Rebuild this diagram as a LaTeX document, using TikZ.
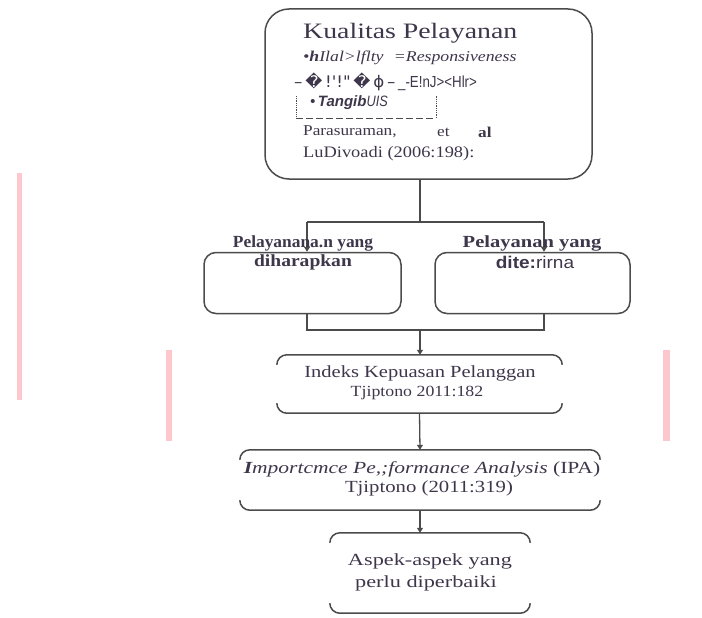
\documentclass[tikz,border=0pt]{standalone}
\usepackage{fontspec}
\usepackage{graphicx}
\setmainfont[FakeStretch=1.15]{Liberation Serif}
\newfontfamily\arialf{Liberation Sans}
\newfontfamily\dejavuf{DejaVu Sans}
\usetikzlibrary{arrows.meta,calc}
\definecolor{lin}{RGB}{75,75,75}
\definecolor{txt}{RGB}{62,54,74}
\definecolor{pinkbar}{RGB}{252,200,206}
\newcommand{\hsc}[2]{\scalebox{#1}[1]{#2}}
\tikzset{
  boxline/.style={draw=lin, line width=1.5pt},
  conn/.style={draw=lin, line width=1.3pt},
  arr/.style={conn, -{Triangle[width=6pt,length=5pt]}},
  lbl/.style={text=txt, inner sep=0pt, anchor=west},
  clbl/.style={text=txt, inner sep=0pt, anchor=center},
}
\begin{document}
\begin{tikzpicture}[x=1pt,y=-1pt]
\useasboundingbox (0,0) rectangle (702,618);
% pink margin bars
\fill[pinkbar] (17,173) rectangle (22,400);
\fill[pinkbar] (166,350) rectangle (172,441);
\fill[pinkbar] (663,350) rectangle (670,441);

% boxes
\node[boxline, rounded corners=24pt, minimum width=327pt, minimum height=170pt] (kual) at (428.5,94) {};
\node[boxline, rounded corners=12pt, minimum width=197pt, minimum height=61pt] (harap) at (302.5,283) {};
\node[boxline, rounded corners=12pt, minimum width=195pt, minimum height=61pt] (terima) at (532.5,283) {};
\node[minimum width=285pt, minimum height=58pt, inner sep=0pt] (ikp) at (419.5,384) {};
\node[minimum width=360pt, minimum height=60pt, inner sep=0pt] (ipa) at (420,480) {};
\node[minimum width=200pt, minimum height=80pt, inner sep=0pt] (aspek) at (430,573) {};
\foreach \b in {ikp,ipa,aspek}{
  \draw[boxline, rounded corners=10pt] ([yshift=-10pt]\b.north west) |- (\b.north) -| ([yshift=-10pt]\b.north east);
  \draw[boxline, rounded corners=10pt] ([yshift=10pt]\b.south west) |- (\b.south) -| ([yshift=10pt]\b.south east);
}

% connectors
\coordinate (s1) at (420,222);
\coordinate (bl) at (307,222);
\coordinate (br) at (544,222);
\coordinate (bl2) at (307,330);
\coordinate (br2) at (544,330);
\coordinate (s2) at (420,330);
\draw[conn] (s1 |- kual.south) -- (s1);
\draw[conn] (bl) -- (br);
\draw[arr] (bl) -- (bl |- harap.north);
\draw[arr] (br) -- (br |- terima.north);
\draw[conn] (bl |- harap.south) -- (bl2) -- (br2) -- (br |- terima.south);
\draw[arr] (s2) -- (s2 |- ikp.north);
\draw[arr] (ikp.south) -- (ipa.north);
\draw[arr] (ipa.south) -- (ipa.south |- aspek.north);

% dashed inner frame
\coordinate (d1) at (296,96);
\coordinate (d2) at (296,118);
\coordinate (d3) at (436,118);
\coordinate (d4) at (436,96);
\draw[lin, line width=0.8pt, densely dotted] (d1) -- (d2);
\draw[lin, line width=1pt, dash pattern=on 7pt off 3pt] (d2) -- (d3);
\draw[lin, line width=0.8pt, densely dotted] (d3) -- (d4);

% texts in the top box
\node[lbl, font=\fontsize{22}{24}\selectfont] (t1) at (303,33) {\hsc{1.1}{Kualitas Pelayanan}};
\node[lbl, font=\fontsize{15}{17}\selectfont\itshape] (t2) at (303,58) {\hsc{1.03}{•\textbf{h}Ilal>lflty\hspace{10pt}=Responsiveness}};
\node[lbl, font=\fontsize{16}{18}\selectfont] (t3) at (294,82) {\hsc{1.04}{{\dejavuf –\,�\,!'!"\,�\,ɸ\,–}\,{\arialf\scalebox{0.8}[1]{\_-E!nJ><Hlr>}}}};
\node[lbl, font=\fontsize{15}{17}\arialf\itshape] (t4) at (310,103) {•\,\textbf{Tangib}\scalebox{0.85}[1]{UIS}};
\node[lbl, font=\fontsize{15}{17}\selectfont] (t5) at (303,132) {Parasuraman,};
\node[lbl, font=\fontsize{15}{17}\selectfont] (t6) at (437,132) {et};
\node[lbl, font=\fontsize{15}{17}\selectfont\bfseries] (t7) at (478,132) {al};
\node[lbl, font=\fontsize{16}{18}\selectfont] (t8) at (303,154) {LuDivoadi (2006:198):};

% Pelayanan labels
\node[clbl, font=\fontsize{17}{19}\selectfont\bfseries] (p1) at (303,243) {\hsc{0.89}{Pelayanana.n yang}};
\node[clbl, font=\fontsize{17}{19}\selectfont\bfseries] (p2) at (303,262) {diharapkan};
\node[clbl, font=\fontsize{17}{19}\selectfont\bfseries] (p3) at (532,243) {\hsc{1.05}{Pelayanan yang}};
\node[clbl, font=\fontsize{17}{19}\arialf\bfseries] (p4) at (535,262) {\hsc{1.12}{dite:{\mdseries rirna}}};

% lower texts
\node[clbl, font=\fontsize{17}{19}\selectfont] (i1) at (420,373) {\hsc{1.05}{Indeks Kepuasan Pelanggan}};
\node[clbl, font=\fontsize{15.5}{17}\selectfont] (i2) at (417,393) {Tjiptono 2011:182};
\node[clbl, font=\fontsize{17}{19}\selectfont] (a1) at (422,469) {\hsc{1.1}{\textit{\textbf{I}mportcmce Pe,;formance Analysis} (IPA)}};
\node[clbl, font=\fontsize{17}{19}\selectfont] (a2) at (429,488) {\hsc{1.06}{Tjiptono (2011:319)}};
\node[clbl, font=\fontsize{17}{19}\selectfont] (k1) at (430,561) {\hsc{1.14}{Aspek-aspek yang}};
\node[clbl, font=\fontsize{17}{19}\selectfont] (k2) at (426,583) {\hsc{1.14}{perlu diperbaiki}};
\end{tikzpicture}
\end{document}
